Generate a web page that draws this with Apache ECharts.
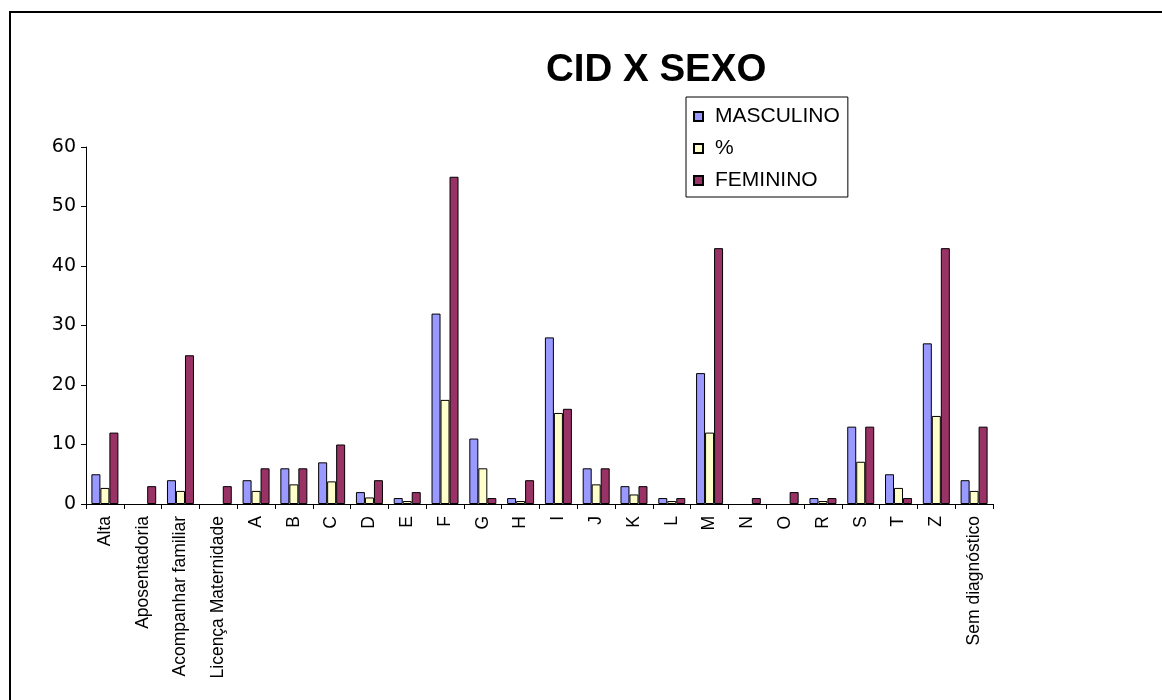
<!DOCTYPE html>
<html>
<head>
<meta charset="utf-8">
<script src="https://cdn.jsdelivr.net/npm/echarts@6/dist/echarts.min.js"></script>
<style>
html, body { margin: 0; padding: 0; background: #fff; }
#chart { position: absolute; left: 0; top: 0; width: 1162px; height: 700px; }
.frame { position: absolute; left: 9px; top: 11px; right: 0; bottom: 0;
  border-top: 2px solid #000; border-left: 2px solid #000; pointer-events: none; }
</style>
</head>
<body>
<div id="chart"></div>
<div class="frame"></div>
<script>
// categorias (CID)
var categorias = ['Alta', 'Aposentadoria', 'Acompanhar familiar', 'Licença Maternidade',
  'A', 'B', 'C', 'D', 'E', 'F', 'G', 'H', 'I', 'J', 'K', 'L', 'M', 'N', 'O', 'R',
  'S', 'T', 'Z', 'Sem diagnóstico']
var masculino = [5, 0, 4, 0, 4, 6, 7, 2, 1, 32, 11, 1, 28, 6, 3, 1, 22, 0, 0, 1, 13, 5, 27, 4]
var percentual = [2.7, 0, 2.2, 0, 2.2, 3.3, 3.8, 1.1, 0.5, 17.5, 6.0, 0.5, 15.3, 3.3, 1.6, 0.5, 12.0, 0, 0, 0.5, 7.1, 2.7, 14.8, 2.2]
var feminino = [12, 3, 25, 3, 6, 6, 10, 4, 2, 55, 1, 4, 16, 6, 3, 1, 43, 1, 2, 1, 13, 1, 43, 13]
var yTicks = [0, 10, 20, 30, 40, 50, 60]

var chart = echarts.init(document.getElementById('chart'))
var fonte = 'Arial, "Liberation Sans", sans-serif'

function serie(nome, dados, cor) {
  return {
    name: nome,
    type: 'bar',
    // zero nao aparece como barra no original
    data: dados.map(function (v) { return v === 0 ? null : v }),
    barWidth: 9,
    barGap: '0%',
    itemStyle: { color: cor, borderColor: '#000', borderWidth: 1 },
    emphasis: { disabled: true }
  }
}

var option = {
  animation: false,
  title: {
    text: 'CID X SEXO',
    left: 541,
    top: 46,
    textStyle: { fontSize: 38.5, fontWeight: 'bold', color: '#000', fontFamily: fonte }
  },
  legend: {
    orient: 'vertical',
    left: 686,
    top: 97,
    itemWidth: 9,
    itemHeight: 9,
    itemGap: 11,
    padding: [9, 8, 6, 7],
    borderColor: '#000',
    borderWidth: 1,
    icon: 'rect',
    textStyle: { fontSize: 21, color: '#000', fontFamily: fonte, padding: [0, 0, 0, 7] },
    data: ['MASCULINO', '%', 'FEMININO']
  },
  grid: { left: 86, right: 169, top: 147, bottom: 196, containLabel: false },
  xAxis: {
    type: 'category',
    data: categorias,
    axisLine: { lineStyle: { color: '#000', width: 1 } },
    axisTick: { show: true, length: 5, lineStyle: { color: '#000' } },
    axisLabel: { rotate: 90, interval: 0, fontSize: 17.5, color: '#000', fontFamily: fonte, margin: 12 }
  },
  yAxis: {
    type: 'value',
    min: yTicks[0],
    max: yTicks[yTicks.length - 1],
    interval: 10,
    axisLine: { show: true, lineStyle: { color: '#000', width: 1 } },
    axisTick: { show: true, length: 5, lineStyle: { color: '#000' } },
    splitLine: { show: false },
    axisLabel: { fontSize: 19, color: '#000', fontFamily: '"DejaVu Sans", sans-serif', margin: 10 }
  },
  series: [
    serie('MASCULINO', masculino, '#9999FF'),
    serie('%', percentual, '#FFFFCC'),
    serie('FEMININO', feminino, '#993366')
  ]
}
chart.setOption(option)
</script>
</body>
</html>
